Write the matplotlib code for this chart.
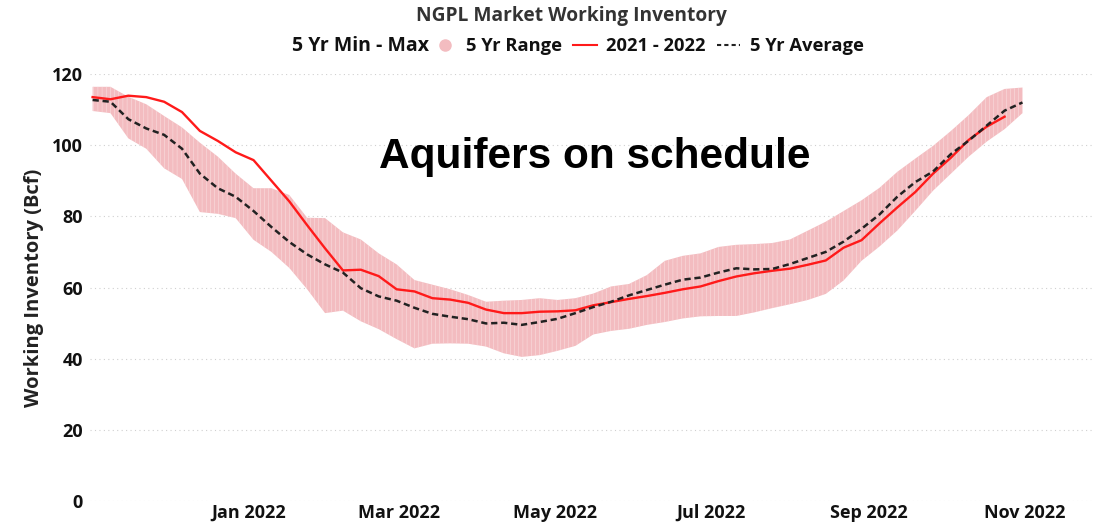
import numpy as np
import pandas as pd
import matplotlib
matplotlib.use('Agg')
from matplotlib import pyplot as plt
from matplotlib.lines import Line2D
import matplotlib.dates as mdates

# weekly points, Nov 2021 - Oct 2022 (Bcf)
week_dates = pd.date_range('2021-11-01', periods=53, freq='7D')
range_max = [116.4, 116.4, 113.6, 111.5, 108.2, 105.0, 100.7, 96.8, 92.0, 87.9,
             87.9, 86.0, 79.6, 79.5, 75.5, 73.5, 69.6, 66.5, 62.1, 60.8,
             59.5, 57.9, 56.0, 56.3, 56.5, 57.0, 56.5, 57.0, 58.3, 60.3,
             61.0, 63.5, 67.5, 68.9, 69.6, 71.4, 72.0, 72.2, 72.5, 73.5,
             76.0, 78.5, 81.5, 84.5, 88.0, 92.5, 96.2, 99.8, 104.0, 108.5,
             113.5, 115.8, 116.2]
range_min = [109.6, 109.0, 101.9, 99.0, 93.5, 90.5, 81.2, 80.7, 79.5, 73.4,
             70.0, 65.5, 59.5, 52.8, 53.5, 50.5, 48.3, 45.5, 42.9, 44.2,
             44.3, 44.2, 43.4, 41.5, 40.5, 41.0, 42.2, 43.6, 46.8, 47.8,
             48.4, 49.5, 50.3, 51.3, 51.9, 52.0, 52.0, 53.0, 54.2, 55.3,
             56.5, 58.2, 62.0, 67.5, 71.5, 76.0, 81.5, 87.2, 92.0, 96.8,
             101.0, 104.5, 109.0]
avg_5yr = [112.7, 112.2, 107.3, 104.7, 102.9, 99.0, 92.0, 87.9, 85.5, 81.5,
           77.0, 72.8, 69.3, 66.5, 64.2, 59.8, 57.5, 56.3, 54.3, 52.6,
           51.8, 51.1, 49.9, 50.1, 49.5, 50.3, 51.2, 52.8, 54.5, 56.0,
           57.8, 59.3, 60.8, 62.2, 62.8, 64.2, 65.4, 65.1, 65.2, 66.6,
           68.3, 70.0, 72.9, 76.5, 80.5, 85.5, 89.6, 92.6, 97.5, 101.3,
           105.5, 109.7, 112.0]
cur_dates = week_dates[:52]
cur_2122 = [113.5, 112.9, 113.9, 113.5, 112.2, 109.3, 104.0, 101.2, 98.0, 95.8,
            90.0, 84.2, 77.5, 71.0, 64.8, 65.0, 63.2, 59.5, 58.9, 57.0,
            56.6, 55.7, 53.8, 52.8, 52.8, 53.2, 53.3, 53.6, 55.0, 55.9,
            56.8, 57.6, 58.5, 59.5, 60.3, 61.8, 63.1, 64.0, 64.7, 65.3,
            66.4, 67.6, 71.2, 73.3, 78.0, 82.5, 86.8, 92.0, 96.5, 101.5,
            105.2, 108.0]
yticks = [0, 20, 40, 60, 80, 100, 120]
xticks = ['2022-01-01', '2022-03-01', '2022-05-01', '2022-07-01', '2022-09-01', '2022-11-01']

plt.rcParams['font.family'] = ['Open Sans', 'DejaVu Sans']
plt.rcParams['hatch.linewidth'] = 0.35

fig = plt.figure(figsize=(10.94, 5.27), dpi=100)
ax = fig.add_axes([0.0823, 0.0493, 0.9177, 0.8103])

ax.fill_between(week_dates, range_min, range_max, facecolor='#f3bcc0',
                edgecolor='#fbe3e4', hatch='||||', linewidth=0)
ax.plot(cur_dates, cur_2122, color='#ff1a1a', lw=1.7)
ax.plot(week_dates, avg_5yr, color='#222222', lw=1.8, ls=(0, (2.5, 1.5)))

ax.set_ylim(0, 120)
ax.set_yticks(yticks)
ax.set_xlim(pd.Timestamp('2021-10-31'), pd.Timestamp('2022-11-28'))
ax.set_xticks([pd.Timestamp(d) for d in xticks])
ax.xaxis.set_major_formatter(mdates.DateFormatter('%b %Y'))
ax.grid(axis='y', color='#d0d0d0', ls=(0, (1, 3)), lw=0.8)
ax.set_axisbelow(True)
for s in ax.spines.values():
    s.set_visible(False)
ax.tick_params(length=0, labelsize=13, colors='#111111')
ax.tick_params(axis='x', pad=2)
ax.tick_params(axis='y', pad=5)
for t in ax.get_xticklabels() + ax.get_yticklabels():
    t.set_fontweight('bold')
ax.set_ylabel('Working Inventory (Bcf)', fontsize=14.5, fontweight='bold', color='#222222', labelpad=6)

ax.text(0.503, 0.806, 'Aquifers on schedule', transform=ax.transAxes, fontsize=30.5,
        fontweight='bold', family=['Liberation Sans', 'DejaVu Sans'], ha='center', va='center')

fig.text(0.522, 1 - 16 / 527, 'NGPL Market Working Inventory', ha='center', va='center',
         fontsize=13.8, fontweight='bold', color='#333333')
fig.text(292 / 1094, 1 - 46 / 527, '5 Yr Min - Max', ha='left', va='center',
         fontsize=14, fontweight='bold', color='#111111')
handles = [Line2D([], [], ls='none', marker='o', ms=8, color='#f3bcc0'),
           Line2D([], [], color='#ff1a1a', lw=1.5),
           Line2D([], [], color='#222222', lw=1.5, ls=(0, (2, 1.5)))]
leg = fig.legend(handles, ['5 Yr Range', '2021 - 2022', '5 Yr Average'], ncol=3,
                 loc='center left', bbox_to_anchor=(433 / 1094, 1 - 46 / 527), frameon=False,
                 handlelength=1.3, handletextpad=0.5, columnspacing=0.6,
                 prop={'weight': 'bold', 'size': 13.2}, borderaxespad=0, borderpad=0)
for t in leg.get_texts():
    t.set_color('#111111')

fig.savefig('out.png', dpi=100)
